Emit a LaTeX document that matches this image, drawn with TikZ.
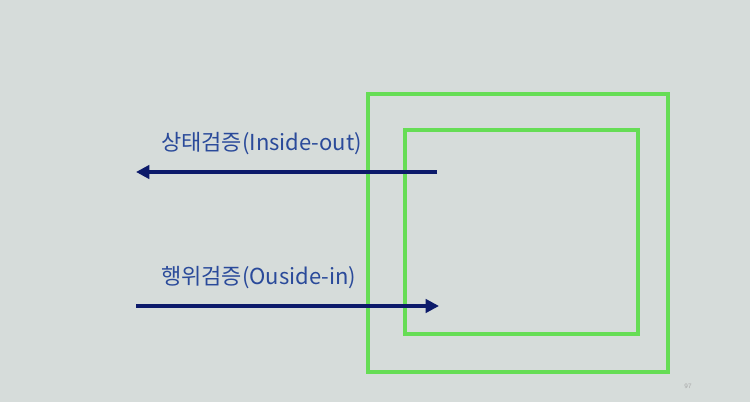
\documentclass[tikz,border=0pt]{standalone}
\usepackage{fontspec}
\newfontfamily\kr{Noto Sans CJK KR}
\usetikzlibrary{arrows.meta}
\definecolor{bg}{HTML}{D6DCDA}
\definecolor{grn}{HTML}{66DD55}
\definecolor{navy}{HTML}{0C1A6A}
\definecolor{txt}{HTML}{2A4A9A}
\begin{document}
\begin{tikzpicture}[x=0.75pt,y=-0.75pt,
  box/.style={draw=grn,line width=2.3pt},
  arr/.style={draw=navy,line width=3pt,-{Triangle[length=10pt,width=10pt]}},
  lbl/.style={text=txt,font=\kr\fontsize{16.5}{19}\selectfont,inner sep=0pt,anchor=west}]
\fill[bg] (0,0) rectangle (750,402);
\useasboundingbox (0,0) rectangle (750,402);
\node[box,minimum width=300*0.75pt,minimum height=278*0.75pt,inner sep=0pt] (outer) at (518,233) {};
\node[box,minimum width=233*0.75pt,minimum height=204*0.75pt,inner sep=0pt] (inner) at (521.5,232) {};
\coordinate (a1s) at (437,172);
\coordinate (a1e) at (136,172);
\coordinate (a2s) at (136,306);
\coordinate (a2e) at (439,306);
\draw[arr] (a1s) -- (a1e);
\draw[arr] (a2s) -- (a2e);
\node[lbl] (l1) at (161,144) {상태검증(Inside-out)};
\node[lbl] (l2) at (161,278) {행위검증(Ouside-in)};
\node[text=gray!70,font=\sffamily\fontsize{5}{6}\selectfont,inner sep=0pt] (pg) at (688,386) {97};
\end{tikzpicture}
\end{document}
